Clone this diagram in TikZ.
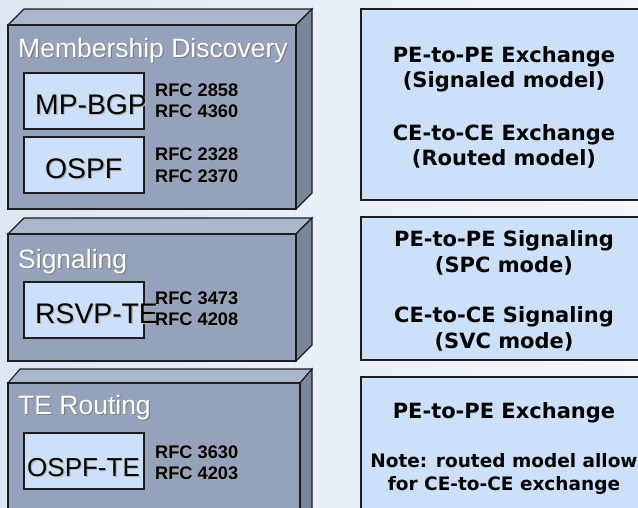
\documentclass[tikz,border=0pt]{standalone}
\usepackage{fontspec}
\setmainfont{Liberation Sans}
\newfontfamily\verd{DejaVu Sans}
\definecolor{bgL}{HTML}{DCE6F2}
\definecolor{bgR}{HTML}{F3F7FC}
\definecolor{cubefront}{HTML}{94A3BB}
\definecolor{cubetop}{HTML}{AAB6CA}
\definecolor{cubeside}{HTML}{7A869A}
\definecolor{pale}{HTML}{CCE0FA}
\definecolor{edgec}{HTML}{1E1E1E}
\tikzset{
  edge/.style={draw=edgec, line width=1.1pt},
  lbl/.style={anchor=base west, inner sep=0pt, font=\fontsize{26.5}{30}\selectfont},
  proto/.style={anchor=base west, inner sep=0pt, font=\fontsize{28.3}{32}\selectfont},
  rfc/.style={anchor=base west, inner sep=0pt, align=left, font=\bfseries\fontsize{18.2}{21}\selectfont},
  info/.style={anchor=base, inner sep=0pt, font=\verd\bfseries\fontsize{21}{24}\selectfont},
  infosmall/.style={anchor=base, inner sep=0pt, font=\verd\bfseries\fontsize{18.5}{22}\selectfont},
  panel/.style={edge, fill=pale},
}
% text with a soft drop shadow: name, style, position, shadow colour, text colour, text
\newcommand\shadowtext[6]{%
  \node[#2, text=#4, xshift=1.2pt, yshift=-1.2pt] (#1-sh) at #3 {#6};
  \node[#2, text=#5] (#1) at #3 {#6};}
% box in cabinet projection: x1 y1 x2 y2 (front face) dx dy (depth)
\newcommand\cuboid[6]{%
  \filldraw[fill=cubetop, edge] (#1,#2) -- (#1+#5,#2-#6) -- (#3+#5,#2-#6) -- (#3,#2) -- cycle;
  \filldraw[fill=cubeside, edge] (#3,#2) -- (#3+#5,#2-#6) -- (#3+#5,#4-#6) -- (#3,#4) -- cycle;
  \filldraw[fill=cubefront, edge] (#1,#2) rectangle (#3,#4);}
\begin{document}
\begin{tikzpicture}[x=1pt, y=-1pt, line join=miter]
\useasboundingbox (0,0) rectangle (638,507);
\clip (0,0) rectangle (638,507);
\shade[left color=bgL, right color=bgR] (0,0) rectangle (638,507);

% ---- left column: protocol layers ----
\cuboid{8}{25}{296}{209}{16}{16}
\cuboid{8}{234}{296}{361}{16}{16}
\cuboid{8}{383}{300}{530}{12}{14}

\shadowtext{memb}{lbl}{(18,57)}{black!50}{white}{Membership Discovery}
\shadowtext{sig}{lbl}{(18,268)}{black!50}{white}{Signaling}
\shadowtext{terout}{lbl}{(18,414)}{black!50}{white}{TE Routing}

\filldraw[panel] (24,73) rectangle (144,129);
\filldraw[panel] (24,137) rectangle (144,193);
\filldraw[panel] (24,282) rectangle (144,338);
\filldraw[panel] (24,433) rectangle (144,489);

\shadowtext{bgp}{proto}{(35,114)}{black!30}{black}{MP-BGP}
\shadowtext{ospf}{proto}{(45,178)}{black!30}{black}{OSPF}
\shadowtext{rsvp}{proto}{(35,323)}{black!30}{black}{RSVP-TE}
\shadowtext{ospfte}{proto, font=\fontsize{26}{30}\selectfont}{(27,476)}{black!30}{black}{OSPF-TE}

\shadowtext{rfcA}{rfc}{(155,96.5)}{black!35}{black}{RFC 2858}
\shadowtext{rfcB}{rfc}{(155,117.5)}{black!35}{black}{RFC 4360}
\shadowtext{rfcC}{rfc}{(155,160.5)}{black!35}{black}{RFC 2328}
\shadowtext{rfcD}{rfc}{(155,182.5)}{black!35}{black}{RFC 2370}
\shadowtext{rfcE}{rfc}{(155,304.5)}{black!35}{black}{RFC 3473}
\shadowtext{rfcF}{rfc}{(155,325.5)}{black!35}{black}{RFC 4208}
\shadowtext{rfcG}{rfc}{(155,458.5)}{black!35}{black}{RFC 3630}
\shadowtext{rfcH}{rfc}{(155,479.5)}{black!35}{black}{RFC 4203}

% ---- right column: exchange models ----
\filldraw[panel] (361,9) rectangle (660,200);
\filldraw[panel] (361,217) rectangle (660,360);
\filldraw[panel] (361,377) rectangle (660,530);

\node[info] (a1) at (504,62) {PE-to-PE Exchange};
\node[info] (a2) at (504,87) {(Signaled model)};
\node[info] (a3) at (504,140) {CE-to-CE Exchange};
\node[info] (a4) at (504,165) {(Routed model)};

\node[info] (b1) at (504,246) {PE-to-PE Signaling};
\node[info] (b2) at (504,272) {(SPC mode)};
\node[info] (b3) at (504,322) {CE-to-CE Signaling};
\node[info] (b4) at (504,348) {(SVC mode)};

\node[info] (c1) at (504,418) {PE-to-PE Exchange};
\node[infosmall] (c2) at (504,467) {Note: routed model allow};
\node[infosmall] (c3) at (504,490) {for CE-to-CE exchange};
\end{tikzpicture}
\end{document}
